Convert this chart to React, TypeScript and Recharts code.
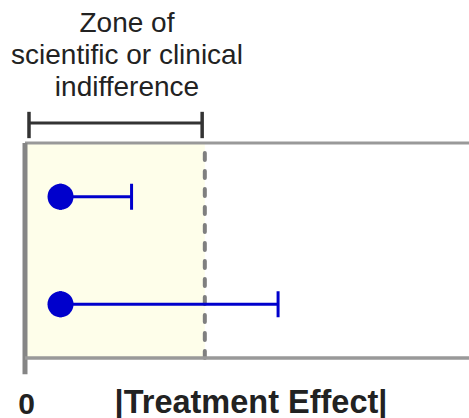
import { ComposedChart, Scatter, XAxis, YAxis, ReferenceArea, ReferenceLine, ErrorBar } from 'recharts'

// rows of the forest-style plot (top to bottom)
const rows = [1, 3]
const estimates = [0.8, 0.8]
const upperLimits = [2.4, 5.7]
const indifference = 4.05
const xMax = 10
const xTicks = [0]
const titleLines = ['Zone of', 'scientific or clinical', 'indifference']
const axisTitle = '|Treatment Effect|'

// bracket over the zone, in data units
const bracketX = [0.09, 3.99]
const bracketY = -0.37
const bracketEnds = [-0.58, -0.09]
// left axis runs a little below the plot
const axisBottom = 4.3

const data = rows.map((row, i) => ({
  row,
  est: estimates[i],
  err: [0, upperLimits[i] - estimates[i]],
}))

const FONT = '"Liberation Sans", Arial, sans-serif'
const BLUE = '#0000cc'
const GRAY = '#858585'

const ZeroTick = (props: any) => (
  <text x={props.x} y={props.y} dx={1.5} dy={40} textAnchor="middle" fontFamily={FONT} fontSize={30} fontWeight="bold" fill="#222">
    {props.payload.value}
  </text>
)

const AxisTitle = (props: any) => {
  const vb = props.viewBox
  return (
    <text x={vb.x + vb.width / 2 + 4} y={vb.y + 55} textAnchor="middle" fontFamily={FONT} fontSize={32.5} fontWeight="bold" fill="#222">
      {axisTitle}
    </text>
  )
}

export default function App() {
  return (
    <div style={{ position: 'absolute', left: 0, top: 0, width: 469, height: 418, background: '#fff' }}>
      <div
        style={{
          position: 'absolute',
          left: 0,
          top: 7,
          width: 254,
          textAlign: 'center',
          fontFamily: FONT,
          fontSize: 28,
          lineHeight: '32px',
          color: '#222',
        }}
      >
        {titleLines.map((t) => (
          <div key={t}>{t}</div>
        ))}
      </div>
      <ComposedChart width={469} height={418} data={data} margin={{ top: 143, right: 0, bottom: 0, left: 25 }}>
        <ReferenceArea x1={0} x2={indifference} y1={0} y2={4} fill="#fefeea" fillOpacity={1} stroke="none" />
        <XAxis
          type="number"
          dataKey="est"
          domain={[0, xMax]}
          ticks={xTicks}
          height={60}
          tickSize={16}
          tickMargin={0}
          tick={<ZeroTick />}
          tickLine={false}
          axisLine={{ stroke: '#999', strokeWidth: 3.5 }}
          label={AxisTitle}
        />
        <YAxis type="number" dataKey="row" domain={[0, 4]} reversed width={0} tick={false} tickLine={false} axisLine={false} />
        <ReferenceLine y={0} stroke="#999" strokeWidth={3} />
        <ReferenceLine
          segment={[{ x: 0, y: 0 }, { x: 0, y: axisBottom }]}
          stroke={GRAY}
          strokeWidth={5}
          ifOverflow="visible"
        />
        <ReferenceLine x={indifference} stroke="#7f7f7f" strokeWidth={4} strokeDasharray="7 11" strokeLinecap="round" />
        <ReferenceLine
          segment={[{ x: bracketX[0], y: bracketY }, { x: bracketX[1], y: bracketY }]}
          stroke="#333"
          strokeWidth={3}
          ifOverflow="visible"
        />
        {bracketX.map((bx) => (
          <ReferenceLine
            key={bx}
            segment={[{ x: bx, y: bracketEnds[0] }, { x: bx, y: bracketEnds[1] }]}
            stroke="#333"
            strokeWidth={3.5}
            ifOverflow="visible"
          />
        ))}
        <Scatter
          dataKey="row"
          isAnimationActive={false}
          shape={(p: any) => <circle cx={p.cx} cy={p.cy} r={13} fill={BLUE} />}
        >
          <ErrorBar dataKey="err" direction="x" width={13} stroke={BLUE} strokeWidth={3} isAnimationActive={false} />
        </Scatter>
      </ComposedChart>
    </div>
  )
}
